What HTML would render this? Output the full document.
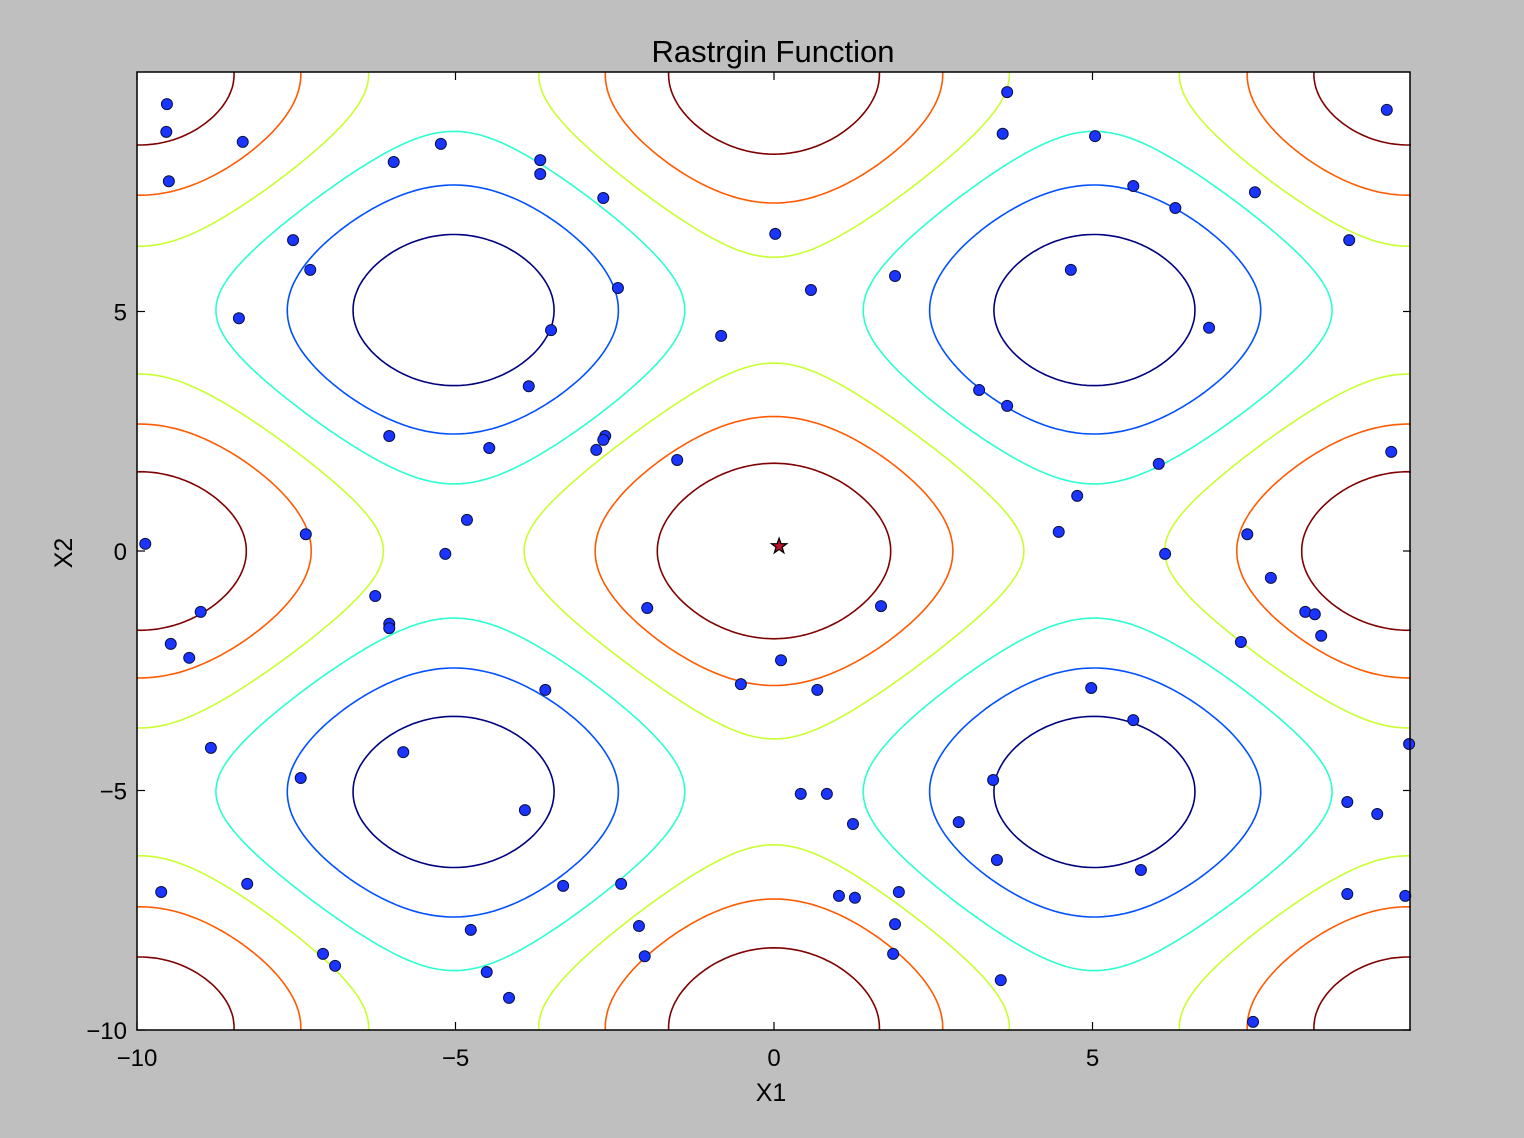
<!DOCTYPE html>
<html><head><meta charset="utf-8"><style>
html,body{margin:0;padding:0;background:#bfbfbf;}
svg{display:block;font-family:"Liberation Sans",sans-serif;}
</style></head><body>
<svg id="chart" width="1524" height="1138" viewBox="0 0 1524 1138">
<rect x="0" y="0" width="1524" height="1138" fill="#bfbfbf"/>
<rect x="137" y="72" width="1273" height="958" fill="#ffffff"/>
<g id="contours"></g>
<g id="points"></g>
<g id="axes"></g>
<rect x="137" y="72" width="1273" height="958" fill="none" stroke="#000" stroke-width="1.5"/>
<text x="773" y="62" font-size="31" text-anchor="middle" fill="#000">Rastrgin Function</text>
<text x="771" y="1101" font-size="25" text-anchor="middle" fill="#000">X1</text>
<text x="72" y="553" font-size="25" text-anchor="middle" fill="#000" transform="rotate(-90 72 553)">X2</text>
</svg>
<script>
const xTicks = [-10, -5, 0, 5];
const yTicks = [-10, -5, 0, 5];
const contourLevels = [-1.6, -0.995, -0.39, 0.205, 0.80, 1.404];
const contourColors = ["#00007f", "#0050ff", "#2affd0", "#c8ff2e", "#ff5a00", "#7f0000"];
const pointsX = [-9.53,-9.54,-9.50,-8.34,-5.23,-5.97,-3.67,-3.67,-2.68,-7.55,-7.28,-8.40,-2.45,-3.50,-3.85,-6.04,-4.47,-2.65,-2.68,-2.79,-1.52,-0.83,0.02,0.58,3.66,3.59,5.04,5.64,6.30,7.55,9.03,9.62,1.90,4.66,6.83,3.22,3.66,6.04,4.76,4.47,6.14,9.69,7.43,7.80,8.34,8.49,8.59,7.33,9.97,-9.87,-7.35,-4.82,-5.16,-9.00,-9.47,-9.18,-6.26,-6.04,-6.04,-1.99,1.68,0.11,-0.52,0.68,4.98,5.64,-3.59,-8.84,-5.82,-7.43,-3.91,3.44,0.42,0.83,1.24,2.90,3.50,5.76,9.00,9.47,9.00,9.91,-9.62,-8.27,-3.31,-2.40,-2.12,-4.76,-2.03,1.02,1.27,1.96,1.90,1.87,-7.08,-6.89,-4.51,-4.16,3.56,7.52];
const pointsY = [9.33,8.75,7.72,8.54,8.50,8.12,8.16,7.87,7.37,6.49,5.87,4.86,5.49,4.61,3.44,2.40,2.15,2.40,2.32,2.11,1.90,4.49,6.62,5.45,9.58,8.71,8.66,7.62,7.16,7.49,6.49,9.21,5.74,5.87,4.66,3.36,3.03,1.82,1.15,0.40,-0.06,2.07,0.35,-0.56,-1.27,-1.32,-1.77,-1.90,-4.03,0.15,0.35,0.65,-0.06,-1.27,-1.94,-2.23,-0.94,-1.52,-1.61,-1.19,-1.15,-2.28,-2.78,-2.90,-2.86,-3.53,-2.90,-4.11,-4.20,-4.74,-5.41,-4.78,-5.07,-5.07,-5.70,-5.66,-6.45,-6.66,-5.24,-5.49,-7.16,-7.20,-7.12,-6.95,-6.99,-6.95,-7.83,-7.91,-8.46,-7.20,-7.24,-7.12,-7.79,-8.41,-8.41,-8.66,-8.79,-9.33,-8.96,-9.83];
const bestX = [0.08];
const bestY = [0.10];

const NS = "http://www.w3.org/2000/svg";
const X0 = 137, X1 = 1411, Y0 = 1030, Y1 = 72;
function sx(v){ return X0 + (v + 10) / 20 * (X1 - X0); }
function sy(v){ return Y0 - (v + 10) / 20 * (Y0 - Y1); }
function f(x, y){ return Math.cos(Math.PI * x / 5) + Math.cos(Math.PI * y / 5) - 0.1 * ((x/10)*(x/10) + (y/10)*(y/10)); }

const N = 240;
const grid = [];
for (let j = 0; j <= N; j++) { const row = []; for (let i = 0; i <= N; i++) row.push(f(-10 + 20 * i / N, -10 + 20 * j / N)); grid.push(row); }
const cg = document.getElementById('contours');
contourLevels.forEach((lev, li) => {
  let d = "";
  for (let j = 0; j < N; j++) for (let i = 0; i < N; i++) {
    const xa = -10 + 20 * i / N, xb = -10 + 20 * (i + 1) / N, ya = -10 + 20 * j / N, yb = -10 + 20 * (j + 1) / N;
    const v = [grid[j][i], grid[j][i+1], grid[j+1][i+1], grid[j+1][i]];
    const c = [[xa,ya],[xb,ya],[xb,yb],[xa,yb]];
    const pts = [];
    for (let k = 0; k < 4; k++) {
      const a = v[k], b = v[(k+1)%4];
      if ((a < lev) !== (b < lev)) {
        const t = (lev - a) / (b - a);
        const p = c[k], q = c[(k+1)%4];
        pts.push([p[0] + t * (q[0] - p[0]), p[1] + t * (q[1] - p[1])]);
      }
    }
    for (let k = 0; k + 1 < pts.length; k += 2)
      d += "M" + sx(pts[k][0]).toFixed(1) + " " + sy(pts[k][1]).toFixed(1) + "L" + sx(pts[k+1][0]).toFixed(1) + " " + sy(pts[k+1][1]).toFixed(1);
  }
  const p = document.createElementNS(NS, 'path');
  p.setAttribute('d', d);
  p.setAttribute('fill', 'none');
  p.setAttribute('stroke', contourColors[li]);
  p.setAttribute('stroke-width', '1.6');
  
  
  cg.appendChild(p);
});

const pg = document.getElementById('points');
pointsX.forEach((x, i) => {
  const c = document.createElementNS(NS, 'circle');
  c.setAttribute('cx', sx(x)); c.setAttribute('cy', sy(pointsY[i])); c.setAttribute('r', 5.5);
  c.setAttribute('fill', '#1a35ff'); c.setAttribute('stroke', '#0a1040'); c.setAttribute('stroke-width', '1');
  
  
  pg.appendChild(c);
});
bestX.forEach((x, i) => {
  const cx = sx(x), cy = sy(bestY[i]);
  let d = "";
  for (let k = 0; k < 10; k++) {
    const r = k % 2 ? 3.2 : 8, a = -Math.PI/2 + k * Math.PI / 5;
    d += (k ? "L" : "M") + (cx + r * Math.cos(a)).toFixed(1) + " " + (cy + r * Math.sin(a)).toFixed(1);
  }
  const s = document.createElementNS(NS, 'path');
  s.setAttribute('d', d + "Z"); s.setAttribute('fill', '#c0102a'); s.setAttribute('stroke', '#000'); s.setAttribute('stroke-width', '1.3');
  
  
  pg.appendChild(s);
});

const ag = document.getElementById('axes');
function line(x1,y1,x2,y2){ const l=document.createElementNS(NS,'line'); l.setAttribute('x1',x1);l.setAttribute('y1',y1);l.setAttribute('x2',x2);l.setAttribute('y2',y2);l.setAttribute('stroke','#000');l.setAttribute('stroke-width','1.2');
 
 
 ag.appendChild(l); }
function label(x,y,txt,anchor){ const t=document.createElementNS(NS,'text'); t.setAttribute('x',x);t.setAttribute('y',y);t.setAttribute('font-size','24');t.setAttribute('text-anchor',anchor);t.textContent=txt;
 
 
 ag.appendChild(t); }
xTicks.forEach(v => { const x = sx(v); line(x,Y0,x,Y0-8); line(x,Y1,x,Y1+8); label(x, 1066, String(v).replace('-', '\u2212'), 'middle'); });
yTicks.forEach(v => { const y = sy(v); line(X0,y,X0+8,y); line(X1,y,X1-8,y); label(127, y + 9, String(v).replace('-', '\u2212'), 'end'); });
</script>
</body></html>
